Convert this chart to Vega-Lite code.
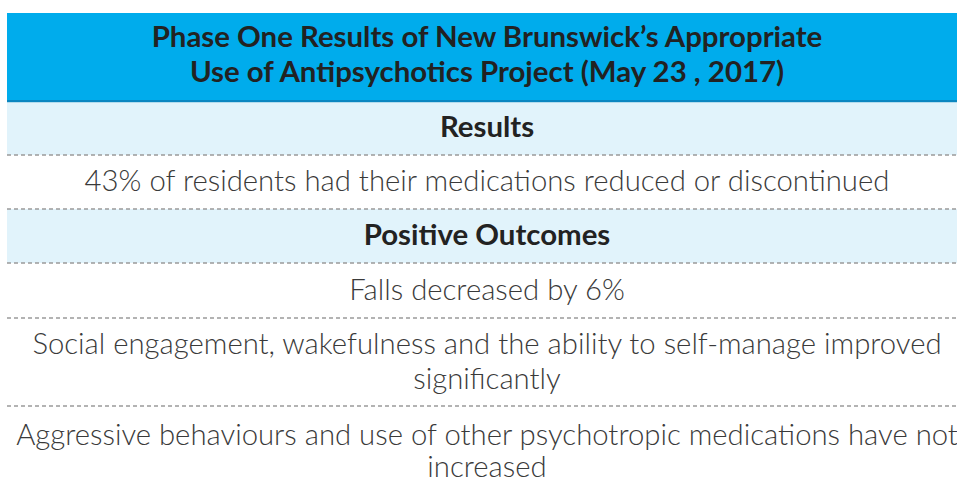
{
  "$schema": "https://vega.github.io/schema/vega-lite/v6.json",
  "width": 957,
  "height": 489,
  "padding": 0,
  "autosize": {"type": "none"},
  "background": "white",
  "config": {"view": {"stroke": null}},
  "datasets": {
    "bands": [
      {"band": "header", "top": 13, "bottom": 100, "left": 7, "right": 967},
      {"band": "divider", "top": 100, "bottom": 102.5, "left": 7, "right": 967},
      {"band": "section", "top": 102.5, "bottom": 155, "left": 7, "right": 967},
      {"band": "section", "top": 209, "bottom": 263, "left": 7, "right": 967}
    ],
    "rules": [
      {"at": 155, "left": 7, "right": 967},
      {"at": 209, "left": 7, "right": 967},
      {"at": 263, "left": 7, "right": 967},
      {"at": 318, "left": 7, "right": 967},
      {"at": 406, "left": 7, "right": 967}
    ],
    "texts": [
      {"label": "Phase One Results of New Brunswick’s Appropriate", "kind": "title", "cx": 487, "cy": 38},
      {"label": "Use of Antipsychotics Project (May 23 , 2017)", "kind": "title", "cx": 487, "cy": 73},
      {"label": "Results", "kind": "title", "cx": 487, "cy": 128},
      {"label": "43% of residents had their medications reduced or discontinued", "kind": "body", "cx": 487, "cy": 182},
      {"label": "Positive Outcomes", "kind": "title", "cx": 487, "cy": 236},
      {"label": "Falls decreased by 6%", "kind": "body", "cx": 487, "cy": 291},
      {"label": "Social engagement, wakefulness and the ability to self-manage improved", "kind": "body", "cx": 487, "cy": 345},
      {"label": "significantly", "kind": "body", "cx": 487, "cy": 380},
      {"label": "Aggressive behaviours and use of other psychotropic medications have not", "kind": "body", "cx": 487, "cy": 436},
      {"label": "increased", "kind": "body", "cx": 487, "cy": 468}
    ]
  },
  "layer": [
    {
      "data": {"name": "bands"},
      "mark": {"type": "rect"},
      "encoding": {
        "x": {"field": "left", "type": "quantitative", "scale": {"domain": [0, 957], "nice": false, "zero": false}, "axis": null},
        "x2": {"field": "right"},
        "y": {"field": "top", "type": "quantitative", "scale": {"domain": [0, 489], "nice": false, "zero": false, "reverse": true}, "axis": null},
        "y2": {"field": "bottom"},
        "color": {"field": "band", "type": "nominal", "scale": {"domain": ["header", "divider", "section"], "range": ["#00ACEC", "#0A86C0", "#E1F3FB"]}, "legend": null}
      }
    },
    {
      "data": {"name": "rules"},
      "mark": {"type": "rule", "color": "#9A9A9A", "strokeDash": [4, 3], "strokeWidth": 1.4},
      "encoding": {
        "x": {"field": "left", "type": "quantitative", "scale": {"domain": [0, 957], "nice": false, "zero": false}, "axis": null},
        "x2": {"field": "right"},
        "y": {"field": "at", "type": "quantitative", "scale": {"domain": [0, 489], "nice": false, "zero": false, "reverse": true}, "axis": null}
      }
    },
    {
      "data": {"name": "texts"},
      "transform": [{"filter": "datum.kind === 'title'"}],
      "mark": {"type": "text", "font": "Lato", "fontWeight": "bold", "fontSize": 29.4, "color": "#222222", "align": "center", "baseline": "middle"},
      "encoding": {
        "x": {"field": "cx", "type": "quantitative", "scale": {"domain": [0, 957], "nice": false, "zero": false}, "axis": null},
        "y": {"field": "cy", "type": "quantitative", "scale": {"domain": [0, 489], "nice": false, "zero": false, "reverse": true}, "axis": null},
        "text": {"field": "label"}
      }
    },
    {
      "data": {"name": "texts"},
      "transform": [{"filter": "datum.kind === 'body'"}],
      "mark": {"type": "text", "font": "Lato", "fontWeight": 300, "fontSize": 29.3, "color": "#3A3A3A", "align": "center", "baseline": "middle"},
      "encoding": {
        "x": {"field": "cx", "type": "quantitative", "scale": {"domain": [0, 957], "nice": false, "zero": false}, "axis": null},
        "y": {"field": "cy", "type": "quantitative", "scale": {"domain": [0, 489], "nice": false, "zero": false, "reverse": true}, "axis": null},
        "text": {"field": "label"}
      }
    }
  ]
}
